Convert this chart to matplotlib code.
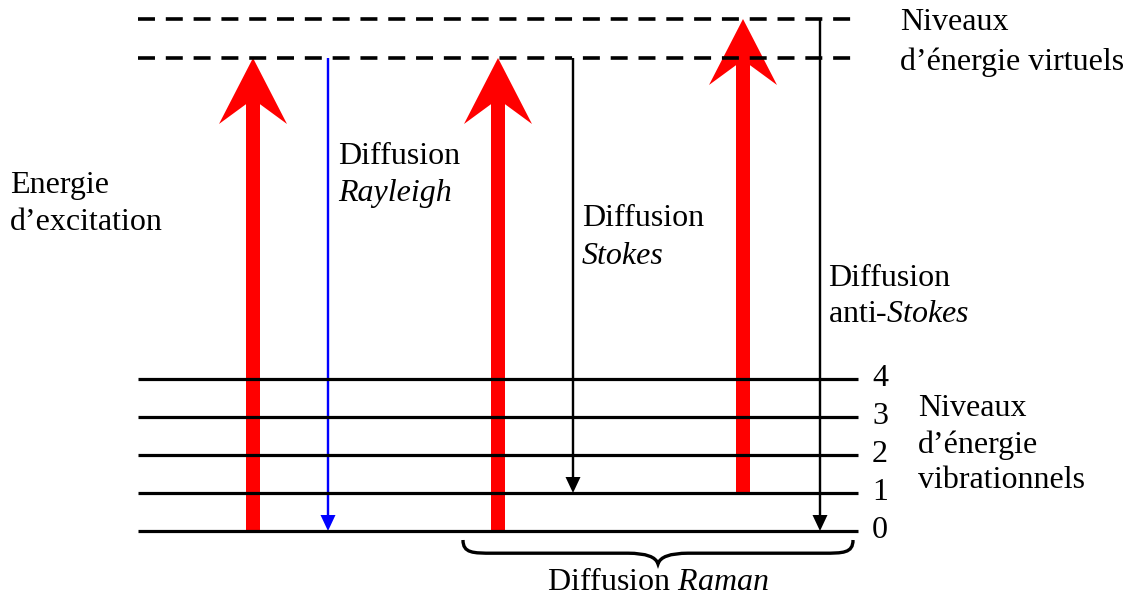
import matplotlib.pyplot as plt
from matplotlib.patches import FancyArrow, PathPatch
from matplotlib.path import Path

plt.rcParams['font.family'] = ['Liberation Serif', 'DejaVu Serif']
plt.rcParams['mathtext.fontset'] = 'custom'
plt.rcParams['mathtext.rm'] = 'Liberation Serif'
plt.rcParams['mathtext.it'] = 'Liberation Serif:italic'

# diagram values (pixel-like units, y grows downwards)
vib_levels = [531, 493, 455, 417, 379]
vib_labels = ['0', '1', '2', '3', '4']
virtual_levels = [19, 58]
level_x = (138, 858)

# excitation arrows: (x, start level, end level)
red_arrows = [(253, 531, 58), (498, 531, 58), (743, 493, 19)]
# scattered arrows: (x, start, end, colour)
thin_arrows = [(328, 58, 531, 'blue'), (573, 58, 493, 'black'), (820, 19, 531, 'black')]

fs = 23

fig = plt.figure(figsize=(11.31, 5.96), dpi=100)
ax = fig.add_axes([0, 0, 1, 1])
ax.set_xlim(0, 1131)
ax.set_ylim(596, 0)
ax.axis('off')

for y, lab in zip(vib_levels, vib_labels):
    ax.plot(level_x, [y, y], color='black', lw=2.3, solid_capstyle='butt')
    ax.text(872, y, lab, fontsize=fs, va='center', ha='left')

for y in virtual_levels:
    ax.plot(level_x, [y, y], color='black', lw=2.6, dashes=(4.7, 3.0),
            dash_capstyle='butt')

for x, y0, y1 in red_arrows:
    ax.add_patch(FancyArrow(x, y0, 0, y1 - y0, width=14, head_width=68, head_length=66,
                            overhang=0.3, length_includes_head=True,
                            color='red', lw=0))

for x, y0, y1, c in thin_arrows:
    ax.add_patch(FancyArrow(x, y0, 0, y1 - y0, width=2.4, head_width=15, head_length=16,
                            length_includes_head=True, color=c, lw=0))

# curly brace under the Raman part
def brace(x0, x1, ytop, h):
    xm = (x0 + x1) / 2
    yb = ytop + h * 0.55
    verts = [(x0, ytop), (x0, yb), (x0 + 10, yb), (x0 + 30, yb),
             (xm - 30, yb), (xm - 3, yb), (xm, ytop + h),
             (xm + 3, yb), (xm + 30, yb), (x1 - 30, yb),
             (x1 - 10, yb), (x1, yb), (x1, ytop)]
    codes = [Path.MOVETO, Path.CURVE4, Path.CURVE4, Path.LINETO,
             Path.LINETO, Path.CURVE3, Path.CURVE3,
             Path.CURVE3, Path.CURVE3, Path.LINETO,
             Path.CURVE4, Path.CURVE4, Path.CURVE4]
    ax.add_patch(PathPatch(Path(verts, codes), fill=False, lw=2.4, color='black'))

brace(463, 853, 540, 24)

ax.text(900, 22, 'Niveaux', fontsize=fs, va='center')
ax.text(900, 62, 'd\u2019énergie virtuels', fontsize=fs, va='center')
ax.text(10, 186, 'Energie', fontsize=fs, va='center')
ax.text(10, 222, 'd\u2019excitation', fontsize=fs, va='center')
ax.text(338, 157, 'Diffusion', fontsize=fs, va='center')
ax.text(338, 193, 'Rayleigh', fontsize=fs, va='center', style='italic')
ax.text(582, 219, 'Diffusion', fontsize=fs, va='center')
ax.text(582, 256, 'Stokes', fontsize=fs, va='center', style='italic')
ax.text(828, 278, 'Diffusion', fontsize=fs, va='center')
ax.text(828, 315, 'anti-$\\mathit{Stokes}$', fontsize=fs, va='center')
ax.text(918, 409, 'Niveaux', fontsize=fs, va='center')
ax.text(918, 445, 'd\u2019énergie', fontsize=fs, va='center')
ax.text(918, 481, 'vibrationnels', fontsize=fs, va='center')
ax.text(658, 582, 'Diffusion $\\mathit{Raman}$', fontsize=fs, va='center', ha='center')

plt.savefig('out.png', dpi=100)
